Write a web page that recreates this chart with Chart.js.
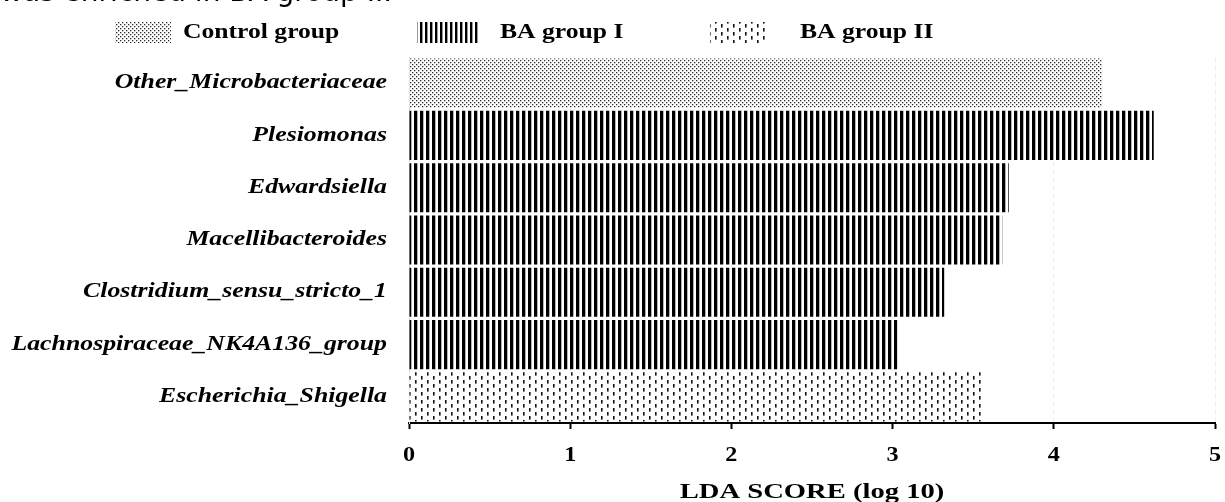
<!DOCTYPE html>
<html>
<head>
<meta charset="utf-8">
<script src="https://cdn.jsdelivr.net/npm/chart.js@4.4.1/dist/chart.umd.min.js"></script>
<style>
  html, body { margin: 0; padding: 0; background: #fff; overflow: hidden; }
  #wrap { position: relative; width: 1225px; height: 502px; }
  #caption { position: absolute; left: 0; top: -22px; font-family: "DejaVu Sans", sans-serif; font-size: 28px; line-height: 28px; color: #000; white-space: nowrap; }
</style>
</head>
<body>
<div id="wrap">
  <canvas id="lda-chart" width="1225" height="502"></canvas>
  <div id="caption">was enriched in BA group II.</div>
</div>
<script>
// taxa, top to bottom
var categories = ['Other_Microbacteriaceae', 'Plesiomonas', 'Edwardsiella', 'Macellibacteroides',
  'Clostridium_sensu_stricto_1', 'Lachnospiraceae_NK4A136_group', 'Escherichia_Shigella'];
var ldaScores = [4.30, 4.62, 3.72, 3.68, 3.32, 3.03, 3.55];
// which group each taxon is enriched in (index into groupNames)
var enrichedIn = [0, 1, 1, 1, 1, 1, 2];
var groupNames = ['Control group', 'BA group I', 'BA group II'];
var xTicks = [0, 1, 2, 3, 4, 5];
var xTitle = 'LDA SCORE (log 10)';

var SERIF = '"Liberation Serif", "Times New Roman", serif';

function makePattern(w, h, draw) {
  var c = document.createElement('canvas');
  c.width = w;
  c.height = h;
  var g = c.getContext('2d');
  g.fillStyle = '#fff';
  g.fillRect(0, 0, w, h);
  draw(g);
  return document.getElementById('lda-chart').getContext('2d').createPattern(c, 'repeat');
}

var dotPattern = makePattern(4, 4, function(g) {
  g.fillStyle = '#2a2a2a';
  g.fillRect(0, 0, 1.3, 1.3);
  g.fillRect(2, 2, 1.3, 1.3);
});
var stripePattern = makePattern(6, 6, function(g) {
  g.fillStyle = '#000';
  g.fillRect(0, 0, 3.3, 6);
});
var dashPattern = makePattern(12, 8, function(g) {
  g.fillStyle = '#111';
  g.fillRect(1, 0, 1.6, 3.6);
  g.fillRect(7, 4, 1.6, 3.6);
});
var legendStripe = makePattern(5, 5, function(g) {
  g.fillStyle = '#000';
  g.fillRect(0, 0, 2.4, 5);
});
var groupFills = [dotPattern, stripePattern, dashPattern];
var legendFills = [dotPattern, legendStripe, dashPattern];

var datasets = groupNames.map(function(name, gi) {
  return {
    label: name,
    data: ldaScores.map(function(v, i) { return enrichedIn[i] === gi ? v : null; }),
    backgroundColor: groupFills[gi],
    borderWidth: 0,
    barPercentage: 0.94,
    categoryPercentage: 1
  };
});

// the reference text is horizontally stretched, so draw it scaled
function stretchedText(ctx, text, x, y, sx, align) {
  ctx.save();
  ctx.translate(x, y);
  ctx.scale(sx, 1);
  ctx.textAlign = align;
  ctx.fillText(text, 0, 0);
  ctx.restore();
}

var legendPos = [
  { box: 115, boxW: 56, text: 183 },
  { box: 417, boxW: 63, text: 500 },
  { box: 710, boxW: 58, text: 800 }
];
var textPlugin = {
  id: 'stretchedLabels',
  afterDraw: function(chart) {
    var ctx = chart.ctx;
    var area = chart.chartArea;
    ctx.save();
    ctx.fillStyle = '#000';
    ctx.textBaseline = 'middle';

    // legend
    ctx.font = 'bold 21px ' + SERIF;
    groupNames.forEach(function(name, i) {
      var p = legendPos[i];
      ctx.fillStyle = legendFills[i];
      ctx.fillRect(p.box, 22, p.boxW, 21);
      ctx.fillStyle = '#000';
      stretchedText(ctx, name, p.text, 33, 1.22, 'left');
    });

    // category labels
    var yScale = chart.scales.y;
    ctx.font = 'italic bold 20px ' + SERIF;
    categories.forEach(function(name, i) {
      stretchedText(ctx, name, area.left - 22, yScale.getPixelForValue(i), 1.29, 'right');
    });

    // x tick labels
    var xScale = chart.scales.x;
    ctx.font = 'bold 21px ' + SERIF;
    xTicks.forEach(function(v) {
      stretchedText(ctx, String(v), xScale.getPixelForValue(v), 456, 1.15, 'center');
    });

    // axis title
    ctx.font = 'bold 22px ' + SERIF;
    stretchedText(ctx, xTitle, (area.left + area.right) / 2, 492, 1.3, 'center');
    ctx.restore();
  }
};

var ctx = document.getElementById('lda-chart').getContext('2d');
var ldaChart = new Chart(ctx, {
  type: 'bar',
  data: { labels: categories, datasets: datasets },
  plugins: [textPlugin],
  options: {
    indexAxis: 'y',
    responsive: false,
    animation: false,
    layout: { padding: { top: 57, right: 10, left: 0, bottom: 0 } },
    plugins: {
      legend: { display: false },
      tooltip: { enabled: false }
    },
    scales: {
      x: {
        stacked: true,
        min: xTicks[0],
        max: xTicks[xTicks.length - 1],
        afterBuildTicks: function(scale) {
          scale.ticks = xTicks.map(function(v) { return { value: v }; });
        },
        afterFit: function(scale) {
          scale.height = 79;
          scale.paddingLeft = 0;
          scale.paddingRight = 0;
        },
        border: { display: true, color: '#000', width: 2, dash: [5, 3] },
        grid: { color: '#f0f0f0', lineWidth: 1, tickColor: '#000', tickWidth: 2, tickLength: 6 },
        ticks: { display: false }
      },
      y: {
        stacked: true,
        afterFit: function(scale) { scale.width = 409; },
        border: { display: true, color: '#dcdcdc', width: 1 },
        grid: { display: false },
        ticks: { display: false }
      }
    }
  }
});
</script>
</body>
</html>
